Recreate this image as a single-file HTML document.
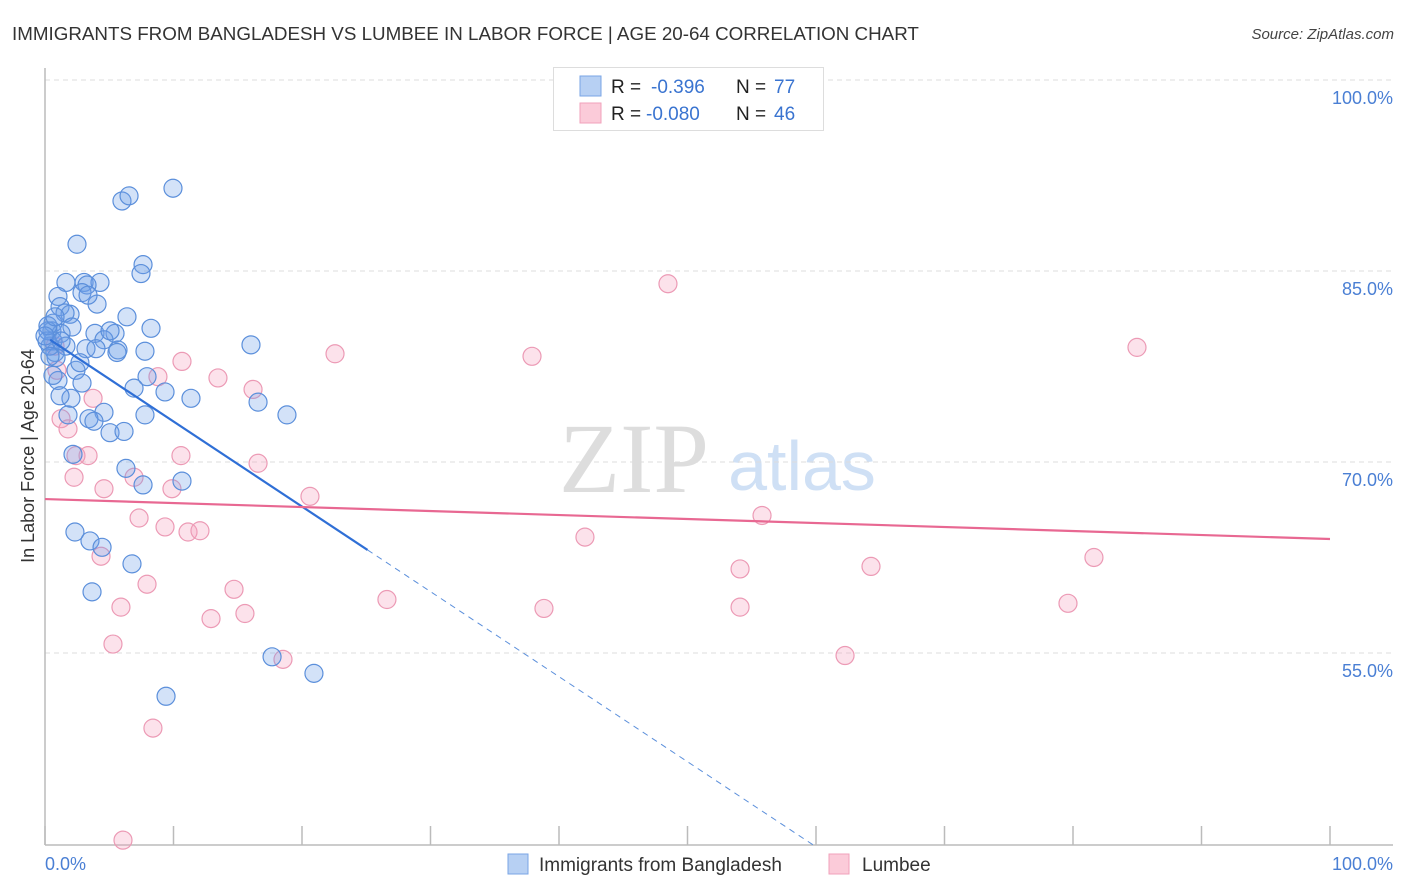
<!DOCTYPE html>
<html><head><meta charset="utf-8"><style>
body{margin:0;background:#fff;font-family:"Liberation Sans",sans-serif;}
#wrap{position:relative;width:1406px;height:892px;overflow:hidden;}
</style></head><body>
<div id="wrap">
<svg id="chart" width="1406" height="892" xmlns="http://www.w3.org/2000/svg">
<text x="12" y="40" font-size="18.8" fill="#333">IMMIGRANTS FROM BANGLADESH VS LUMBEE IN LABOR FORCE | AGE 20-64 CORRELATION CHART</text>
<text x="1394" y="39" font-size="15" font-style="italic" fill="#444" text-anchor="end">Source: ZipAtlas.com</text>
<text x="634" y="492" font-size="100" font-family="Liberation Serif,serif" fill="#ddd" text-anchor="middle">ZIP</text>
<text x="802" y="490" font-size="70" fill="#cfe0f5" text-anchor="middle">atlas</text>
<g id="grid"></g><g id="axes"></g><g id="marks"></g><g id="lines"></g>
<text x="34" y="456" font-size="18" fill="#333" text-anchor="middle" transform="rotate(-90 34 456)">In Labor Force | Age 20-64</text>
<text x="45" y="870" font-size="18" fill="#4a7fd4">0.0%</text>
<text x="1393" y="870" font-size="18" fill="#4a7fd4" text-anchor="end">100.0%</text>
<g>
<rect x="553.5" y="67.5" width="270" height="63" fill="#fff" stroke="#ddd"/>
<rect x="580" y="76" width="21" height="20" fill="#b7d0f3" stroke="#7aa5e6"/>
<rect x="580" y="103" width="21" height="20" fill="#fbcbd9" stroke="#f0a2bb"/>
<text x="611" y="93" font-size="19" fill="#222">R = </text><text x="651" y="93" font-size="19" fill="#3a74d0">-0.396</text>
<text x="736" y="93" font-size="19" fill="#222">N = </text><text x="774" y="93" font-size="19" fill="#3a74d0">77</text>
<text x="611" y="120" font-size="19" fill="#222">R = </text><text x="646" y="120" font-size="19" fill="#3a74d0">-0.080</text>
<text x="736" y="120" font-size="19" fill="#222">N = </text><text x="774" y="120" font-size="19" fill="#3a74d0">46</text>
</g>
<g>
<rect x="508" y="854" width="20" height="20" fill="#b7d0f3" stroke="#7aa5e6"/>
<text x="539" y="871" font-size="19" fill="#333">Immigrants from Bangladesh</text>
<rect x="829" y="854" width="20" height="20" fill="#fbcbd9" stroke="#f0a2bb"/>
<text x="862" y="871" font-size="19" fill="#333">Lumbee</text>
</g>
</svg></div>
<script>
const yTicks=[100,85,70,55];
const yTickLabels=["100.0%","85.0%","70.0%","55.0%"];
const xTicks=[0,10,20,30,40,50,60,70,80,90,100];
const blueX=[9.96,5.99,6.54,2.49,7.63,7.47,1.63,3.04,4.28,3.27,2.88,1.01,4.05,1.17,1.95,1.56,6.38,8.25,2.10,0.62,0.54,3.89,1.25,5.45,0.62,4.59,16.03,1.63,3.19,3.97,5.68,7.78,5.60,0.78,0.86,2.41,7.94,2.88,6.93,9.34,11.36,16.58,2.02,1.79,4.59,3.42,7.78,3.81,18.83,5.06,6.15,2.18,6.30,10.66,7.63,2.33,3.50,4.44,6.77,3.66,17.67,20.93,9.42,0.39,0.23,0.16,0.23,0.39,1.01,0.62,1.17,2.72,5.06,0,0.78,1.25,3.35];
const blueY=[91.5,90.5,90.9,87.1,85.5,84.8,84.1,84.1,84.1,83.9,83.3,83.0,82.4,82.2,81.6,81.7,81.4,80.5,80.6,80.9,80.3,80.1,80.1,80.1,79.5,79.6,79.2,79.1,78.9,78.9,78.8,78.7,78.6,78.6,78.2,77.2,76.7,76.2,75.8,75.5,75.0,74.7,75.0,73.7,73.9,73.4,73.7,73.2,73.7,72.3,72.4,70.6,69.5,68.5,68.2,64.5,63.8,63.3,62.0,59.8,54.7,53.4,51.6,79.1,80.3,79.5,80.7,78.3,76.4,76.8,75.2,77.8,80.3,79.9,81.4,79.5,83.1];
const pinkX=[48.48,84.98,22.57,37.90,10.66,13.46,8.79,16.19,3.74,1.25,1.79,16.58,10.58,3.35,2.41,2.26,6.93,4.59,9.88,20.62,55.80,7.32,9.34,11.13,12.06,42.02,4.36,81.63,54.09,64.28,7.94,14.71,26.61,5.91,15.56,12.92,38.83,54.09,79.61,5.29,18.52,62.26,8.40,6.07,0.78,0.93];
const pinkY=[84.0,79.0,78.5,78.3,77.9,76.6,76.7,75.7,75.0,73.4,72.6,69.9,70.5,70.5,70.5,68.8,68.8,67.9,67.9,67.3,65.8,65.6,64.9,64.5,64.6,64.1,62.6,62.5,61.6,61.8,60.4,60.0,59.2,58.6,58.1,57.7,58.5,58.6,58.9,55.7,54.5,54.8,49.1,40.3,79.1,77.2];
const blueFit=[79.86,-0.668]; // intercept, slope
const pinkFit=[67.09,-0.0314];
const NS="http://www.w3.org/2000/svg";
const X=v=>45+v*12.85;
const Y=v=>80+(100-v)*12.733;
function mk(tag,attrs,parent){const e=document.createElementNS(NS,tag);for(const k in attrs)e.setAttribute(k,attrs[k]);parent.appendChild(e);return e;}
const grid=document.getElementById('grid'),axes=document.getElementById('axes'),marks=document.getElementById('marks'),lines=document.getElementById('lines');
yTicks.forEach((t,i)=>{
 const l=mk('line',{x1:45,x2:1393,y1:Y(t),y2:Y(t),stroke:'#ddd','stroke-dasharray':'5,4'},grid);
 
 
 const tx=mk('text',{x:1393,y:Y(t)+24,'font-size':18,fill:'#4a7fd4','text-anchor':'end'},grid);
 tx.textContent=yTickLabels[i];
 
 
});
const ya=mk('line',{x1:45,x2:45,y1:68,y2:845,stroke:'#bbb','stroke-width':1.5},axes);


const xa=mk('line',{x1:45,x2:1393,y1:845,y2:845,stroke:'#bbb','stroke-width':1.5},axes);


xTicks.forEach(t=>{
 const l=mk('line',{x1:X(t),x2:X(t),y1:826,y2:845,stroke:'#bbb','stroke-width':1.5},axes);
 
 
});
function dots(xs,ys,fill,stroke,name){xs.forEach((x,i)=>{
 const c=mk('circle',{cx:X(x),cy:Y(ys[i]),r:9,fill:fill,stroke:stroke,'stroke-width':1.2},marks);
 
 
});}
dots(pinkX,pinkY,'rgba(244,160,188,0.3)','#ec9ab5','point-lumbee');
dots(blueX,blueY,'rgba(110,160,232,0.3)','#5b8fdb','point-bangladesh');
const bx1=0.4,bx2=25.1,bx3=(39.92-blueFit[0])/blueFit[1];
const b1=mk('line',{x1:X(bx1),y1:Y(blueFit[0]+blueFit[1]*bx1),x2:X(bx2),y2:Y(blueFit[0]+blueFit[1]*bx2),stroke:'#2f6fd6','stroke-width':2.2},lines);


const b2=mk('line',{x1:X(bx2),y1:Y(blueFit[0]+blueFit[1]*bx2),x2:X(bx3),y2:Y(39.92),stroke:'#5b8fdb','stroke-width':1,'stroke-dasharray':'6,5'},lines);


const p1=mk('line',{x1:X(0),y1:Y(pinkFit[0]),x2:X(100),y2:Y(pinkFit[0]+pinkFit[1]*100),stroke:'#e86892','stroke-width':2.2},lines);


</script>
</body></html>
